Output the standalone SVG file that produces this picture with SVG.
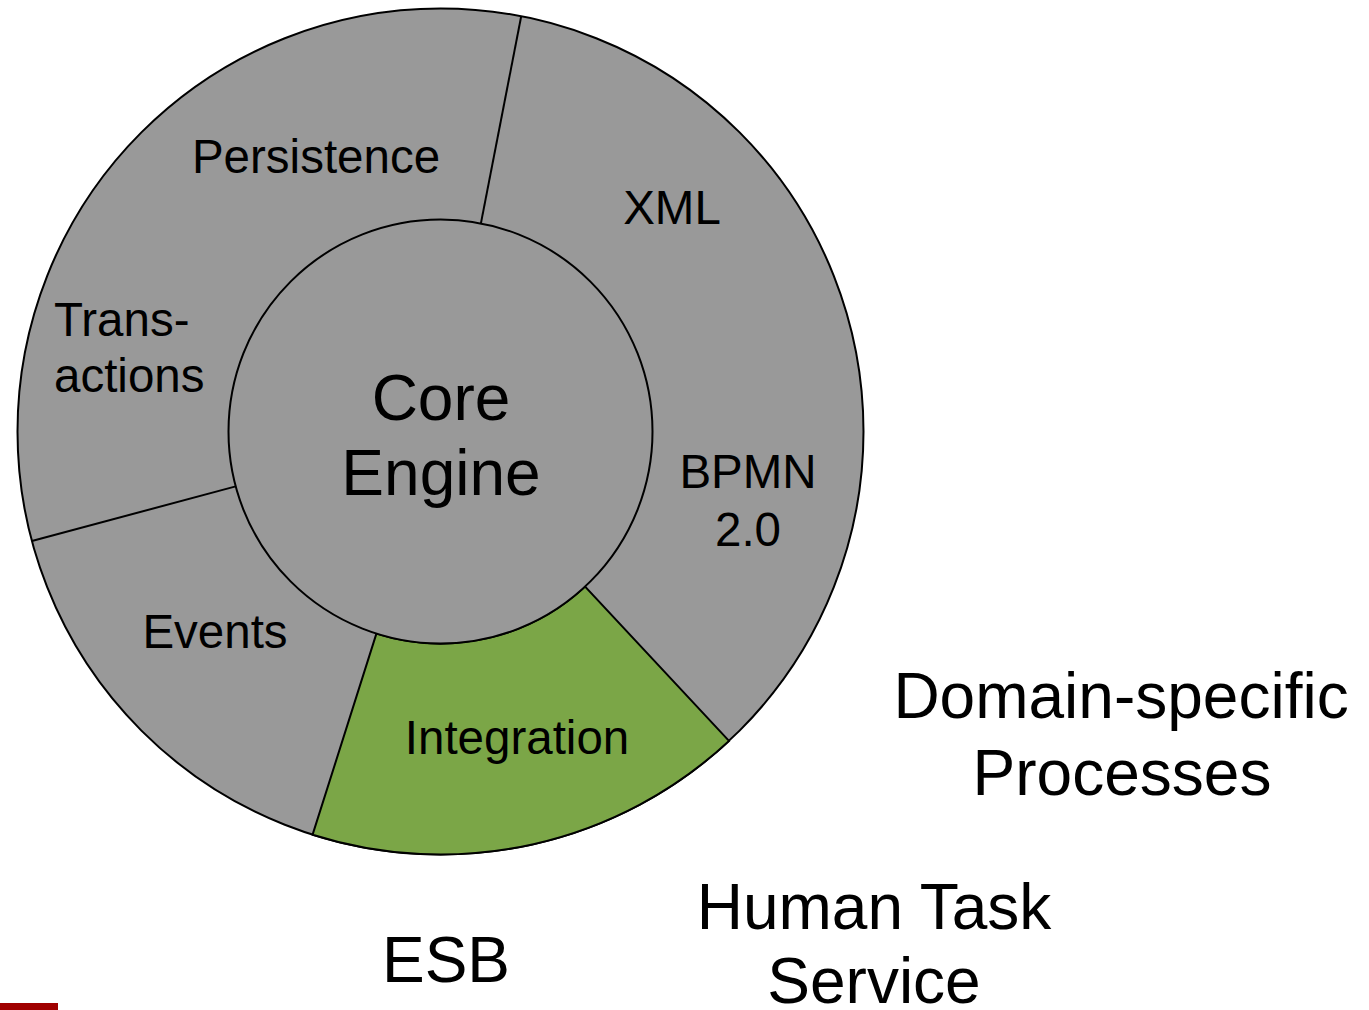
<svg xmlns="http://www.w3.org/2000/svg" width="1369" height="1010" viewBox="0 0 1369 1010">
<style>
.seg{fill:#999999;stroke:#000;stroke-width:2}
.sep{stroke:#000;stroke-width:2;fill:none}
text{font-family:"Liberation Sans",Arial,sans-serif;fill:#000;text-anchor:middle}
.s{font-size:47.5px}
.l{font-size:64px}
</style>
<rect width="1369" height="1010" fill="#fff"/>
<g id="outer-ring">
<circle class="seg" cx="440.5" cy="431.5" r="423"/>
</g>
<g id="integration">
<path d="M376.4 633.6 L312.6 834.7 A423 423 0 0 0 729 740.9 L585.1 586.6 A212 212 0 0 1 376.4 633.6 Z" fill="#7ba647" stroke="#000" stroke-width="2"/>
<text class="s" x="517" y="754">Integration</text>
</g>
<g id="connectors">
<line class="sep" x1="480.9" y1="223.4" x2="521.2" y2="16.3"/>
<line class="sep" x1="235.7" y1="486.4" x2="31.9" y2="541"/>
</g>
<g id="core-engine">
<circle class="seg" cx="440.5" cy="431.5" r="212"/>
<text class="l" x="441" y="420">Core</text>
<text class="l" x="441" y="495">Engine</text>
</g>
<g id="persistence"><text class="s" x="316" y="173">Persistence</text></g>
<g id="xml"><text class="s" x="672" y="224">XML</text></g>
<g id="transactions"><text class="s" style="text-anchor:start" x="54" y="336">Trans-</text><text class="s" style="text-anchor:start" x="54" y="392">actions</text></g>
<g id="bpmn"><text class="s" x="748" y="488">BPMN</text><text class="s" x="748" y="546">2.0</text></g>
<g id="events"><text class="s" x="215" y="648">Events</text></g>
<g id="domain"><text class="l" x="1121" y="718">Domain-specific</text><text class="l" x="1122" y="795">Processes</text></g>
<g id="human-task"><text class="l" x="874" y="929">Human Task</text><text class="l" x="874" y="1003">Service</text></g>
<g id="esb"><text class="l" x="446" y="982">ESB</text></g>
<rect x="0" y="1003" width="58" height="7" fill="#a00000"/>
</svg>
